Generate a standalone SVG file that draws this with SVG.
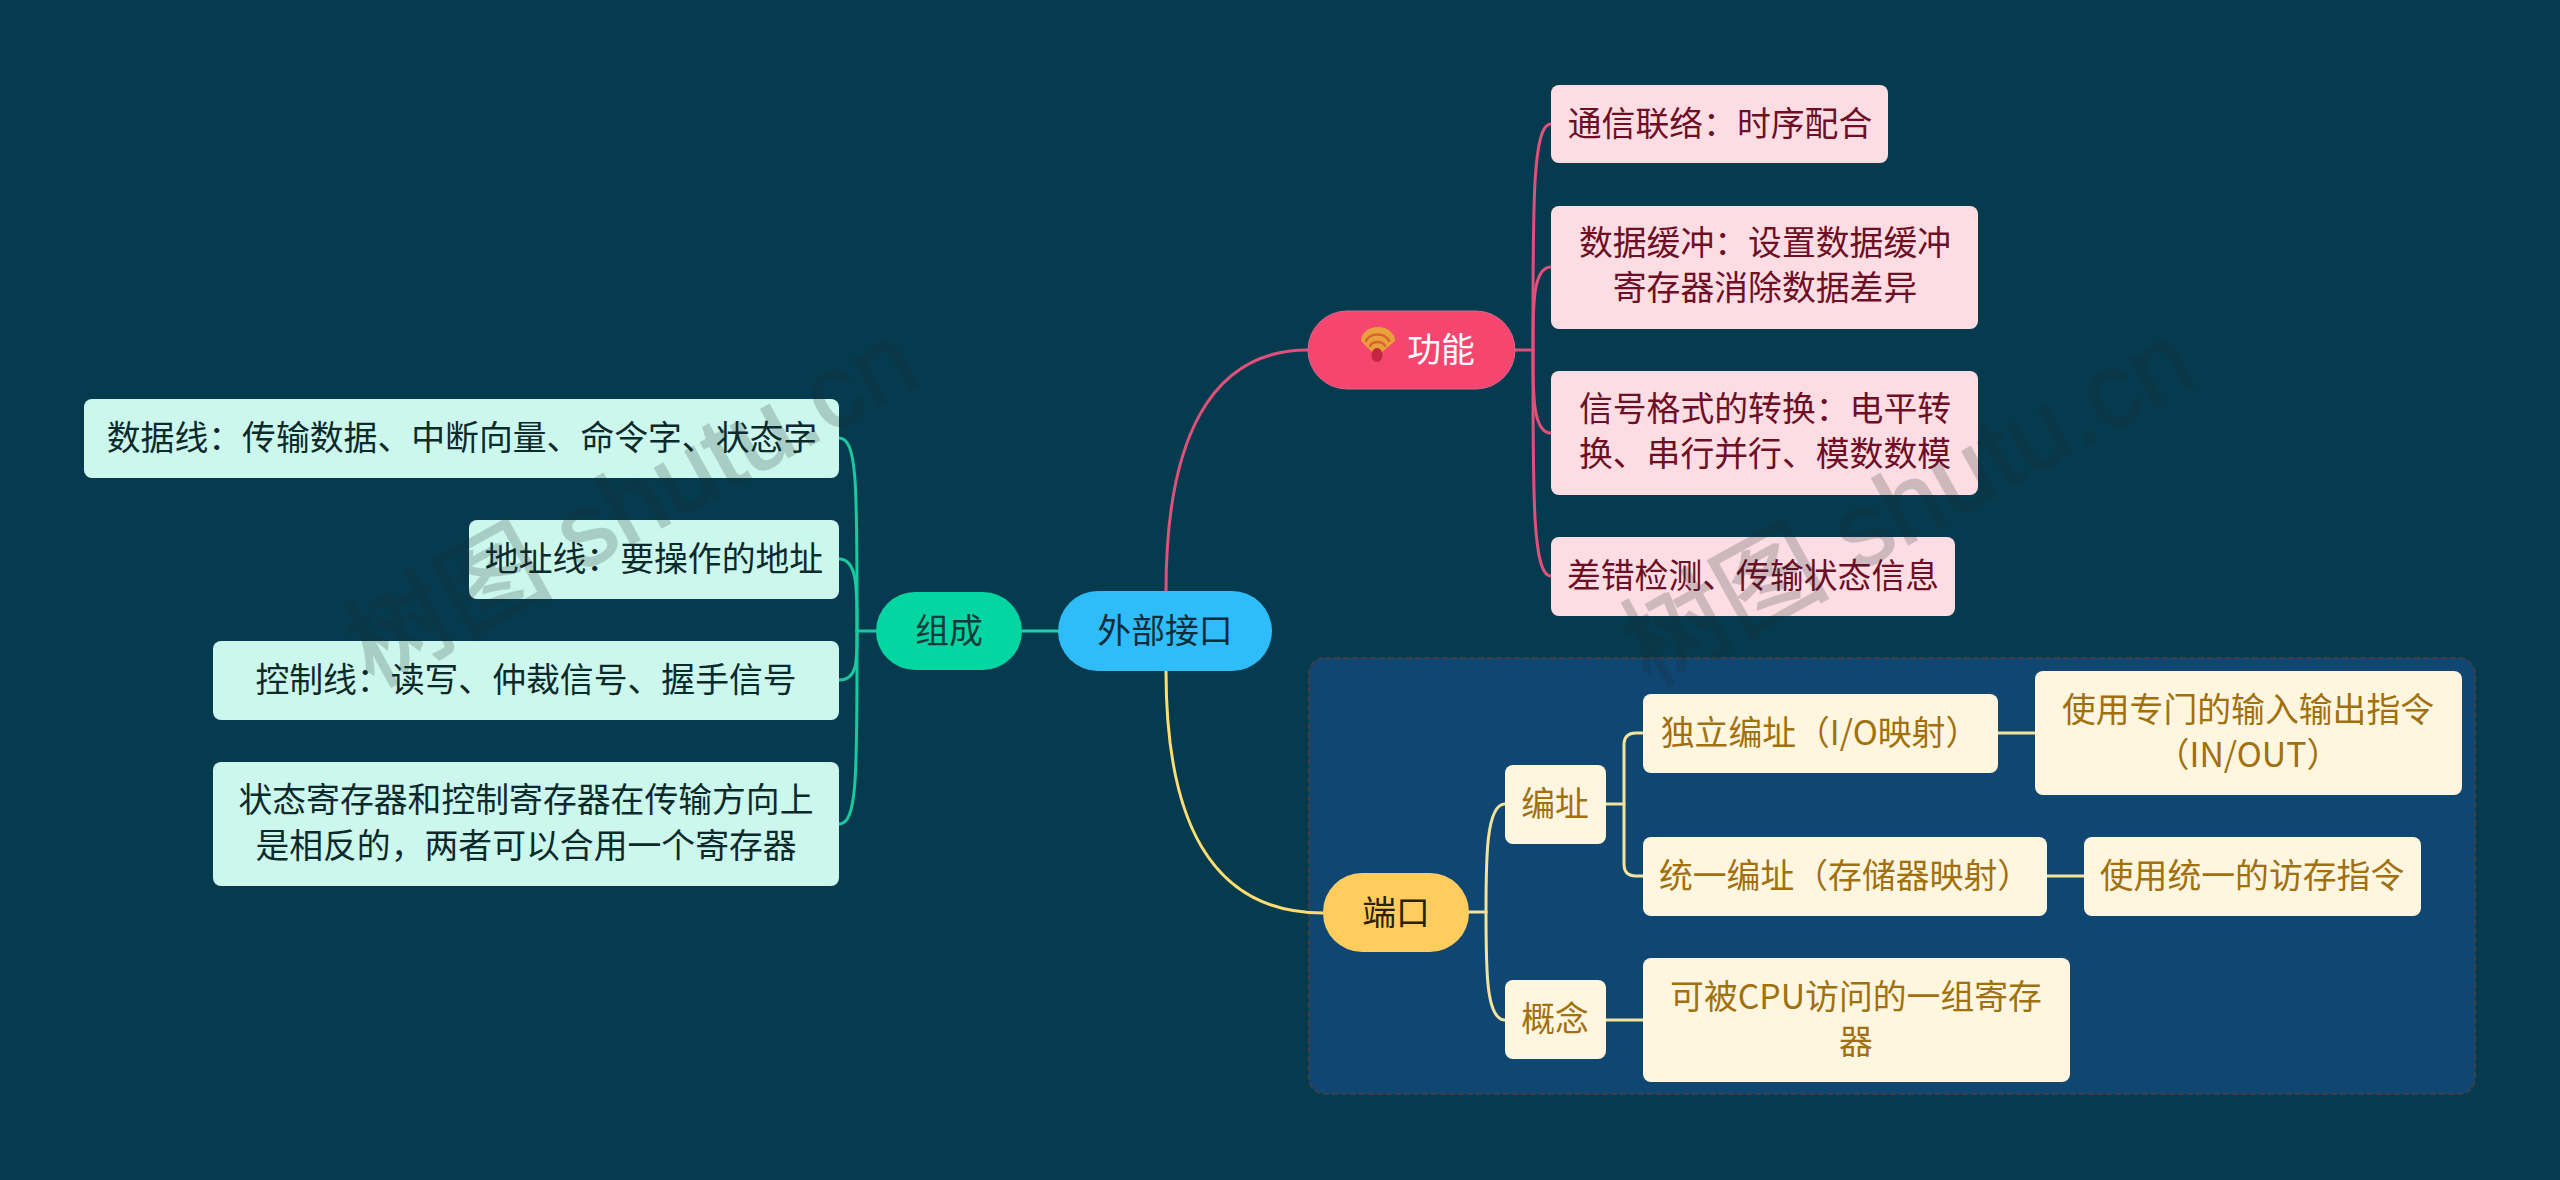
<svg xmlns="http://www.w3.org/2000/svg" width="2560" height="1180" viewBox="0 0 2560 1180">
<style>
text{font-family:"Noto Sans CJK SC","Noto Sans",sans-serif;font-size:33.85px;text-anchor:middle}
.pk rect{fill:#fbdde3}.pk text{fill:#6e0f26}
.tl rect{fill:#ccf7ec}.tl text{fill:#0c2a2c}
.cr rect{fill:#fff6e0}.cr text{fill:#a1700f}
.con{fill:none;stroke-width:3;stroke-linecap:round}
.cp{stroke:#e0507a}.cg{stroke:#19c9a0}.cy{stroke:#f3e39c}
text.wm{font-family:"Liberation Sans","Noto Sans CJK SC",sans-serif;font-size:104px;font-weight:400;fill:#1a2a30;stroke:#1a2a30;stroke-width:2;opacity:.2;text-anchor:middle}
</style>
<rect width="2560" height="1180" fill="#063b4f"/>
<rect id="frame" x="1309" y="658" width="1166" height="436" rx="16" fill="#104672" stroke="#3f3f48" stroke-width="2" stroke-dasharray="6 3"/>
<g id="connectors">
<path class="con cp" d="M1166 591C1166 440 1210 350 1308 350"/>
<path class="con" stroke="#ffdd70" d="M1166 671C1166 820 1210 913 1323 913"/>
<path class="con" stroke="#19d3a6" d="M1022 631H1058"/>
<g class="con cg">
<path d="M876 631H857"/>
<path d="M857 631C857 490 858 438 839 438"/>
<path d="M857 631C857 590 858 559 839 559"/>
<path d="M857 631C857 660 858 680 839 680"/>
<path d="M857 631C857 770 858 824 839 824"/>
</g>
<g class="con cp">
<path d="M1515 350H1533"/>
<path d="M1533 350C1533 210 1532 124 1551 124"/>
<path d="M1533 350C1533 310 1532 267 1551 267"/>
<path d="M1533 350C1533 390 1532 433 1551 433"/>
<path d="M1533 350C1533 490 1532 576 1551 576"/>
</g>
<g class="con cy">
<path d="M1469 912H1486"/>
<path d="M1486 912C1486 860 1486 804 1505 804"/>
<path d="M1486 912C1486 970 1486 1020 1505 1020"/>
<path d="M1606 804H1624"/>
<path d="M1643 733H1636Q1624 733 1624 745V864Q1624 876 1636 876H1643"/>
<path d="M1606 1020H1643"/>
<path d="M1998 733H2035"/>
<path d="M2047 876H2084"/>
</g>
</g>
<g id="root"><rect x="1058" y="591" width="214" height="80" rx="40" fill="#2fbdf9"/><text x="1165" y="643" fill="#0b2c38">外部接口</text></g>
<g id="gongneng"><rect x="1308" y="311" width="207" height="78" rx="39" fill="#f4466f" stroke="#d9688a" stroke-width="1"/>
<g id="icon" fill="none" stroke-linecap="round"><path d="M1361 341A17 14 0 0 1 1395 341L1381 353H1373Z" fill="#e9a13b"/><path d="M1366 341A12 9 0 0 1 1389 341" stroke="#d9622f" stroke-width="2.5"/><path d="M1370 346A8 6 0 0 1 1385 346" stroke="#d9622f" stroke-width="2.5"/><ellipse cx="1377" cy="355" rx="5.5" ry="7" fill="#c5263f"/></g>
<text x="1441" y="362" fill="#fff">功能</text></g>
<g id="zucheng"><rect x="876" y="592" width="146" height="78" rx="39" fill="#05d5a0"/><text x="949" y="643" fill="#0b3b3c">组成</text></g>
<g id="duankou"><rect x="1323" y="873" width="146" height="79" rx="39" fill="#ffcd5e"/><text x="1396" y="925" fill="#2b2008">端口</text></g>
<g id="t1" class="pk"><rect x="1551" y="85" width="337" height="78" rx="8"/><text x="1720" y="136">通信联络：时序配合</text></g>
<g id="t2" class="pk"><rect x="1551" y="206" width="427" height="123" rx="8"/><text x="1765" y="255">数据缓冲：设置数据缓冲</text><text x="1765" y="300">寄存器消除数据差异</text></g>
<g id="t3" class="pk"><rect x="1551" y="371" width="427" height="124" rx="8"/><text x="1765" y="421">信号格式的转换：电平转</text><text x="1765" y="466">换、串行并行、模数数模</text></g>
<g id="t4" class="pk"><rect x="1551" y="537" width="404" height="79" rx="8"/><text x="1753" y="588">差错检测、传输状态信息</text></g>
<g id="l1" class="tl"><rect x="84" y="399" width="755" height="79" rx="8"/><text x="462" y="450">数据线：传输数据、中断向量、命令字、状态字</text></g>
<g id="l2" class="tl"><rect x="469" y="520" width="370" height="79" rx="8"/><text x="654" y="571">地址线：要操作的地址</text></g>
<g id="l3" class="tl"><rect x="213" y="641" width="626" height="79" rx="8"/><text x="526" y="692">控制线：读写、仲裁信号、握手信号</text></g>
<g id="l4" class="tl"><rect x="213" y="762" width="626" height="124" rx="8"/><text x="526" y="812">状态寄存器和控制寄存器在传输方向上</text><text x="526" y="858">是相反的，两者可以合用一个寄存器</text></g>
<g id="c1" class="cr"><rect x="1505" y="765" width="101" height="79" rx="8"/><text x="1555" y="816">编址</text></g>
<g id="c2" class="cr"><rect x="1505" y="980" width="101" height="79" rx="8"/><text x="1555" y="1031">概念</text></g>
<g id="c3" class="cr"><rect x="1643" y="694" width="355" height="79" rx="8"/><text x="1820" y="745">独立编址（I/O映射）</text></g>
<g id="c4" class="cr"><rect x="1643" y="837" width="404" height="79" rx="8"/><text x="1845" y="888">统一编址（存储器映射）</text></g>
<g id="c5" class="cr"><rect x="1643" y="958" width="427" height="124" rx="8"/><text x="1856" y="1009">可被CPU访问的一组寄存</text><text x="1856" y="1054">器</text></g>
<g id="c6" class="cr"><rect x="2035" y="671" width="427" height="124" rx="8"/><text x="2248" y="722">使用专门的输入输出指令</text><text x="2248" y="767">（IN/OUT）</text></g>
<g id="c7" class="cr"><rect x="2084" y="837" width="337" height="79" rx="8"/><text x="2252" y="888">使用统一的访存指令</text></g>
<text class="wm" transform="translate(648 535) rotate(-29)">树图 shutu.cn</text>
<text class="wm" transform="translate(1925 535) rotate(-29)">树图 shutu.cn</text>
</svg>
